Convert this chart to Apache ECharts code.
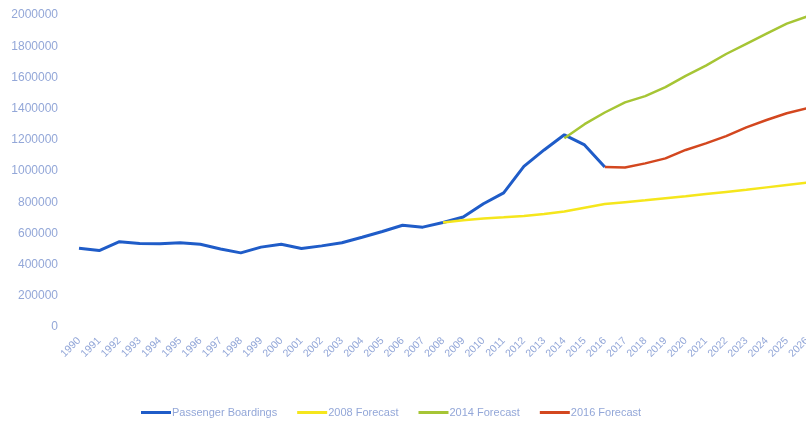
<!DOCTYPE html>
<html>
<head>
  <meta charset="utf-8">
  <script src="https://cdn.jsdelivr.net/npm/echarts@6/dist/echarts.min.js"></script>
</head>
<body style="margin: 0; background: #fff">
  <div id="chart" style="width: 806px; height: 424px;"></div>
  <script>
    // years 1990 - 2026
    const years = [];
    for (let y = 1990; y <= 2026; y++) years.push(String(y));

    const boardings = [505000, 490000, 547000, 535000, 533000, 540000, 530000, 500000, 475000, 512000,
      530000, 503000, 520000, 540000, 575000, 612000, 652000, 640000, 670000, 705000,
      790000, 860000, 1030000, 1135000, 1232000, 1167000, 1025000];
    const forecast2008 = [670000, 685000, 695000, 703000, 712000, 725000, 740000, 765000, 788000, 800000,
      812000, 825000, 838000, 852000, 866000, 880000, 895000, 910000, 925000];
    const forecast2014 = [1210000, 1300000, 1375000, 1440000, 1480000, 1538000, 1610000, 1675000, 1750000,
      1815000, 1880000, 1945000, 1990000];
    const forecast2016 = [1025000, 1022000, 1049000, 1081000, 1135000, 1177000, 1224000, 1280000, 1327000,
      1370000, 1402000];

    // pad a series so it starts at the given year
    function fromYear(start, vals) {
      const out = years.map(() => null);
      const i0 = years.indexOf(String(start));
      vals.forEach((v, i) => { out[i0 + i] = v; });
      return out;
    }

    const labelColor = '#93a7d8';
    const chart = echarts.init(document.getElementById('chart'), null, { renderer: 'canvas' });

    function line(name, data, color, width) {
      return {
        name: name,
        type: 'line',
        data: data,
        symbol: 'none',
        lineStyle: { color: color, width: width },
        itemStyle: { color: color },
        connectNulls: false
      };
    }

    chart.setOption({
      animation: false,
      grid: { left: 79, right: -1, top: 15, bottom: 97, containLabel: false, outerBoundsMode: 'none' },
      legend: {
        bottom: 1,
        left: 136,
        icon: 'rect',
        itemWidth: 30,
        itemHeight: 3,
        itemGap: 20,
        textStyle: { color: labelColor, fontSize: 11, fontFamily: 'Liberation Sans', padding: [0, 0, 0, -4] },
        data: ['Passenger Boardings', '2008 Forecast', '2014 Forecast', '2016 Forecast']
      },
      xAxis: {
        type: 'category',
        data: years,
        boundaryGap: false,
        axisLine: { show: false },
        axisTick: { show: false },
        axisLabel: { rotate: 45, color: labelColor, fontSize: 10.5, fontFamily: 'Liberation Sans', margin: 12, interval: 0 }
      },
      yAxis: {
        type: 'value',
        min: 0,
        max: 2000000,
        interval: 200000,
        axisLine: { show: false },
        axisTick: { show: false },
        splitLine: { show: false },
        axisLabel: { color: labelColor, fontSize: 12, fontFamily: 'Liberation Sans', margin: 21, formatter: v => String(v) }
      },
      series: [
        line('Passenger Boardings', fromYear(1990, boardings), '#1f5cc8', 3),
        line('2008 Forecast', fromYear(2008, forecast2008), '#f5e61c', 2.5),
        line('2014 Forecast', fromYear(2014, forecast2014), '#a6c535', 2.5),
        line('2016 Forecast', fromYear(2016, forecast2016), '#d3471f', 2.5)
      ]
    });
  </script>
</body>
</html>
